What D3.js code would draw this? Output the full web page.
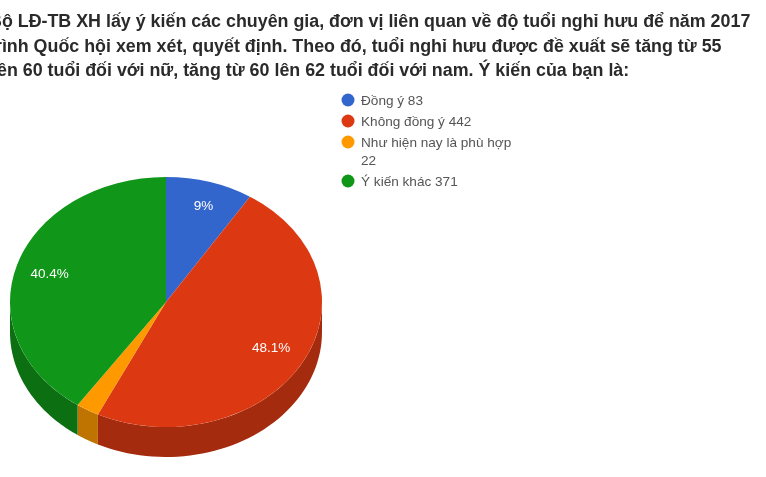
<!DOCTYPE html>
<html>
<head>
<meta charset="utf-8">
<script src="https://cdn.jsdelivr.net/npm/d3@7"></script>
<style>
    html, body { margin: 0; padding: 0; background: #fff; overflow: hidden; }
    svg { filter: blur(0.45px); }
    text { font-family: "Liberation Sans", Arial, sans-serif; }
</style>
</head>
<body>
<svg id="chart" width="766" height="477"></svg>
<script>
// data
var categories = ["Đồng ý", "Không đồng ý", "Như hiện nay là phù hợp", "Ý kiến khác"]
var counts = [83, 442, 22, 371]
var percentLabels = ["9%", "48.1%", "", "40.4%"]
var headingLines = [
    "Bộ LĐ-TB XH lấy ý kiến các chuyên gia, đơn vị liên quan về độ tuổi nghỉ hưu để năm 2017",
    "trình Quốc hội xem xét, quyết định. Theo đó, tuổi nghỉ hưu được đề xuất sẽ tăng từ 55",
    "lên 60 tuổi đối với nữ, tăng từ 60 lên 62 tuổi đối với nam. Ý kiến của bạn là:"
]
var topColors = ["#3366cc", "#dc3912", "#ff9900", "#109618"]
var sideColors = ["#264d99", "#a52b0e", "#bf7300", "#0c7012"]

var width = 766,
    height = 477,
    cx = 166,
    cy = 302,
    rx = 156,
    ry = 125,
    depth = 30

var svg = d3.select("#chart")

// heading, cropped by the left edge of the picture
svg.append("g").selectAll("text")
    .data(headingLines)
    .enter().append("text")
    .attr("x", function(d, i) { return [-11, -11, -8][i] })
    .attr("y", function(d, i) { return 27 + i * 24.5 })
    .style("font-size", "17.85px")
    .style("font-weight", "bold")
    .style("fill", "#2a2a2a")
    .text(function(d) { return d })

var pie = d3.pie().sort(null)
var slices = pie(counts)

var arc = d3.arc().innerRadius(0).outerRadius(rx)

// depth of the pie: only the front half of the rim shows
var angle = d3.scaleLinear().domain([0, 1])
var rimLine = d3.line()

var side = svg.append("g").attr("class", "side")

slices.forEach(function(s, i) {
    var from = Math.max(s.startAngle, Math.PI / 2),
        to = Math.min(s.endAngle, Math.PI * 1.5)
    if (from >= to) { return }
    angle.range([from, to])
    var top = d3.range(0, 1.0001, 0.02).map(function(t) {
        var a = angle(t)
        return [cx + rx * Math.sin(a), cy - ry * Math.cos(a)]
    })
    var bottom = top.slice().reverse().map(function(p) {
        return [p[0], p[1] + depth]
    })
    side.append("path")
        .attr("d", rimLine(top.concat(bottom)) + "Z")
        .style("fill", sideColors[i])
})

// the flat top is a circular pie squashed vertically
var face = svg.append("g")
    .attr("class", "face")
    .attr("transform", "translate(" + cx + "," + cy + ") scale(1," + (ry / rx) + ")")

face.selectAll("path")
    .data(slices)
    .enter().append("path")
    .attr("d", arc)
    .style("fill", function(d, i) { return topColors[i] })

// percentage labels
var labelOffset = [[6, -10], [7, 2], [0, 0], [-9, -1]]
svg.append("g").selectAll("text")
    .data(slices)
    .enter().append("text")
    .attr("x", function(d, i) {
        var a = (d.startAngle + d.endAngle) / 2
        return cx + rx * 0.72 * Math.sin(a) + labelOffset[i][0]
    })
    .attr("y", function(d, i) {
        var a = (d.startAngle + d.endAngle) / 2
        return cy - ry * 0.72 * Math.cos(a) + 4 + labelOffset[i][1]
    })
    .attr("text-anchor", "middle")
    .style("font-size", "13.5px")
    .style("fill", "#fff")
    .text(function(d, i) { return percentLabels[i] })

// legend
var legendRows = [
    { lines: [categories[0] + " " + counts[0]], y: 100 },
    { lines: [categories[1] + " " + counts[1]], y: 121 },
    { lines: [categories[2], String(counts[2])], y: 142 },
    { lines: [categories[3] + " " + counts[3]], y: 181 }
]

var legend = svg.append("g").attr("class", "legend")

var item = legend.selectAll("g")
    .data(legendRows)
    .enter().append("g")
    .attr("transform", function(d) { return "translate(0," + d.y + ")" })

item.append("circle")
    .attr("cx", 348)
    .attr("cy", 0)
    .attr("r", 6.5)
    .style("fill", function(d, i) { return topColors[i] })

item.selectAll("text")
    .data(function(d) { return d.lines })
    .enter().append("text")
    .attr("x", 361)
    .attr("y", function(d, i) { return 5 + i * 18 })
    .style("font-size", "13.6px")
    .style("fill", "#555")
    .text(function(d) { return d })
</script>
</body>
</html>
